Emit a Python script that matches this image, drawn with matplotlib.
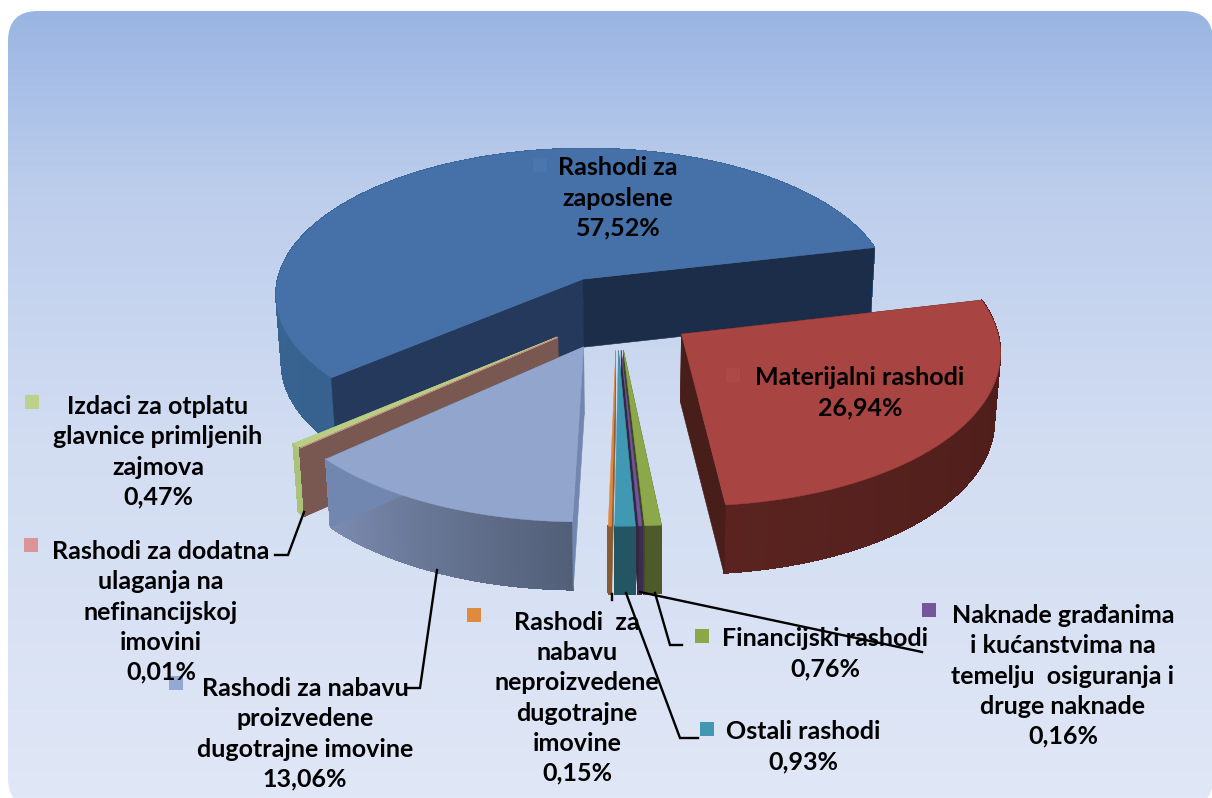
import numpy as np
import matplotlib
matplotlib.use("Agg")
import matplotlib.pyplot as plt
from matplotlib.patches import FancyBboxPatch, Polygon, Rectangle
from matplotlib.collections import PolyCollection
from matplotlib.colors import LinearSegmentedColormap, to_rgb

values = [57.52, 26.94, 0.76, 0.16, 0.93, 0.15, 13.06, 0.01, 0.47]
labels = [
    "Rashodi za\nzaposlene\n57,52%",
    "Materijalni rashodi\n26,94%",
    "Financijski rashodi\n0,76%",
    "Naknade građanima\ni kućanstvima na\ntemelju  osiguranja i\ndruge naknade\n0,16%",
    "Ostali rashodi\n0,93%",
    "Rashodi  za\nnabavu\nneproizvedene\ndugotrajne\nimovine\n0,15%",
    "Rashodi za nabavu\nproizvedene\ndugotrajne imovine\n13,06%",
    "Rashodi za dodatna\nulaganja na\nnefinancijskoj\nimovini\n0,01%",
    "Izdaci za otplatu\nglavnice primljenih\nzajmova\n0,47%",
]
label_pos = [(618, 198), (860, 393), (825, 654), (1063, 676), (803, 747),
             (577, 698), (305, 734), (161, 612), (158, 452)]
key_pos = [(540, 165), (733, 375), (702, 636), (929, 610), (707, 729),
           (474, 615), (176, 683), (31, 545), (32, 402)]
key_col = ["#4a76ad", "#ad4a48", "#8aa84a", "#76569a", "#4198b0",
           "#e08a3e", "#94a9d2", "#d99694", "#bcd18c"]
top_col = ["#4671a8", "#a84442", "#8ca84b", "#73559b", "#4198b2",
           "#e1873c", "#91a5cd", "#d99694", "#b9cd85"]
rim_a = ["#37628f", "#4a1c18", "#4f5a2a", "#3c2d50", "#235562",
         "#8a5a32", "#525f78", "#7a5852", "#aac27a"]
rim_b = ["#3d6a9a", "#5a2320", "#4f5a2a", "#3c2d50", "#235562",
         "#8a5a32", "#7c8cb0", "#7a5852", "#aac27a"]
wall_a = ["#1b2d48", "#481e1a", "#3e4722", "#33263f", None,
          None, "#7287b0", "#7a5852", "#aac27a"]
wall_b = ["#24395c", "#481e1a", "#4f5a2a", "#3c2d50", "#235562",
          "#8a5a32", "#7287b0", "#7a5852", "#aac27a"]
draw_order = [0, 8, 7, 6, 1, 2, 3, 4, 5]
leaders = [
    [(304, 512), (288, 555), (275, 555)],
    [(437, 570), (420, 688), (408, 688)],
    [(612, 594), (612, 600)],
    [(626, 593), (680, 738), (698, 738)],
    [(655, 593), (670, 645), (682, 645)],
    [(640, 592), (922, 652)],
]

CX, CY, R, A, K, EXPL, DEPTH, CONV = 617, 312, 312, 150, 0.10, 0.25, 68, 0.016
T_END = 13.0


def project(X, Y, low=False):
    X, Y = np.asarray(X, float), np.asarray(Y, float)
    s = 1 / (1 + K * Y)
    x = CX + X * R * s
    y = CY - Y * A * s
    if low:
        y = y + DEPTH
        x = x - CONV * (x - CX)
    return np.column_stack([np.atleast_1d(x), np.atleast_1d(y)])


plt.rcParams["font.family"] = ["Lato", "DejaVu Sans"]
fig = plt.figure(figsize=(12.12, 7.98), dpi=100, facecolor="white")
ax = fig.add_axes([0, 0, 1, 1])
ax.set_xlim(0, 1212)
ax.set_ylim(798, 0)
ax.axis("off")

# rounded gradient panel
panel = FancyBboxPatch((8, 11), 1205, 797, boxstyle="round,pad=0,rounding_size=30",
                       fc="none", ec="none", transform=ax.transData)
ax.add_patch(panel)
cmap = LinearSegmentedColormap.from_list(
    "bg", [(0, "#9ab5e3"), (0.22, "#bccdec"), (0.55, "#d2ddf2"), (1, "#e0e7f6")])
grad = np.linspace(0, 1, 256).reshape(-1, 1)
im = ax.imshow(grad, extent=(8, 1213, 798, 11), aspect="auto", cmap=cmap, zorder=0)
im.set_clip_path(panel)
ax.set_xlim(0, 1212)
ax.set_ylim(798, 0)

# slices
frac = np.array(values) / sum(values) * 360
start = T_END + frac[0]
bounds = start - np.concatenate([[0], np.cumsum(frac)])
z = 1
for i in draw_order:
    a0, a1 = bounds[i], bounds[i + 1]
    mid = np.radians((a0 + a1) / 2)
    ox, oy = EXPL * np.cos(mid), EXPL * np.sin(mid)
    t = np.radians(np.linspace(a0, a1, max(int(abs(a0 - a1) * 2), 6)))
    ax_x = ox + np.cos(t)
    ax_y = oy + np.sin(t)
    top = project(ax_x, ax_y)
    low = project(ax_x, ax_y, low=True)
    apex_top = project([ox], [oy])
    apex_low = project([ox], [oy], low=True)
    # outer rim: smooth underlay plus aliased shaded strips
    ca, cb = np.array(to_rgb(rim_a[i])), np.array(to_rgb(rim_b[i]))
    ax.add_patch(Polygon(np.vstack([top, low[::-1]]), closed=True,
                         fc=tuple((ca + cb) / 2), ec=tuple((ca + cb) / 2), lw=0.6, zorder=z))
    z += 1
    polys, cols = [], []
    for j in range(len(t) - 1):
        polys.append([top[j], top[j + 1], low[j + 1], low[j]])
        f = j / max(len(t) - 2, 1)
        cols.append(tuple(ca * (1 - f) + cb * f))
    ax.add_collection(PolyCollection(polys, facecolors=cols, edgecolors=cols,
                                     linewidths=0.5, antialiaseds=False, zorder=z))
    z += 1
    # cut walls
    ax.add_patch(Polygon([apex_top[0], top[0], low[0], apex_low[0]], closed=True,
                         fc=wall_b[i], ec=wall_b[i], lw=0.4, zorder=z))
    z += 1
    if wall_a[i] is not None:
        ax.add_patch(Polygon([apex_top[0], top[-1], low[-1], apex_low[0]], closed=True,
                             fc=wall_a[i], ec=wall_a[i], lw=0.4, zorder=z))
    z += 1
    # upper face
    ax.add_patch(Polygon(np.vstack([apex_top, top]), closed=True,
                         fc=top_col[i], ec=top_col[i], lw=0.3, zorder=z))
    z += 1

# leaders
for pts in leaders:
    p = np.array(pts)
    ax.plot(p[:, 0], p[:, 1], color="black", lw=1.7, zorder=z, solid_joinstyle="miter")
z += 1

# keys and labels
for (kx, ky), c in zip(key_pos, key_col):
    ax.add_patch(Rectangle((kx - 7, ky - 7), 14, 14, fc=c, ec="none", zorder=z))
z += 1
for txt, (tx, ty) in zip(labels, label_pos):
    ax.text(tx, ty, txt, ha="center", va="center", fontsize=18, fontweight="bold",
            color="black", linespacing=1.37, zorder=z)

fig.savefig("out.png", dpi=100, facecolor="white")
